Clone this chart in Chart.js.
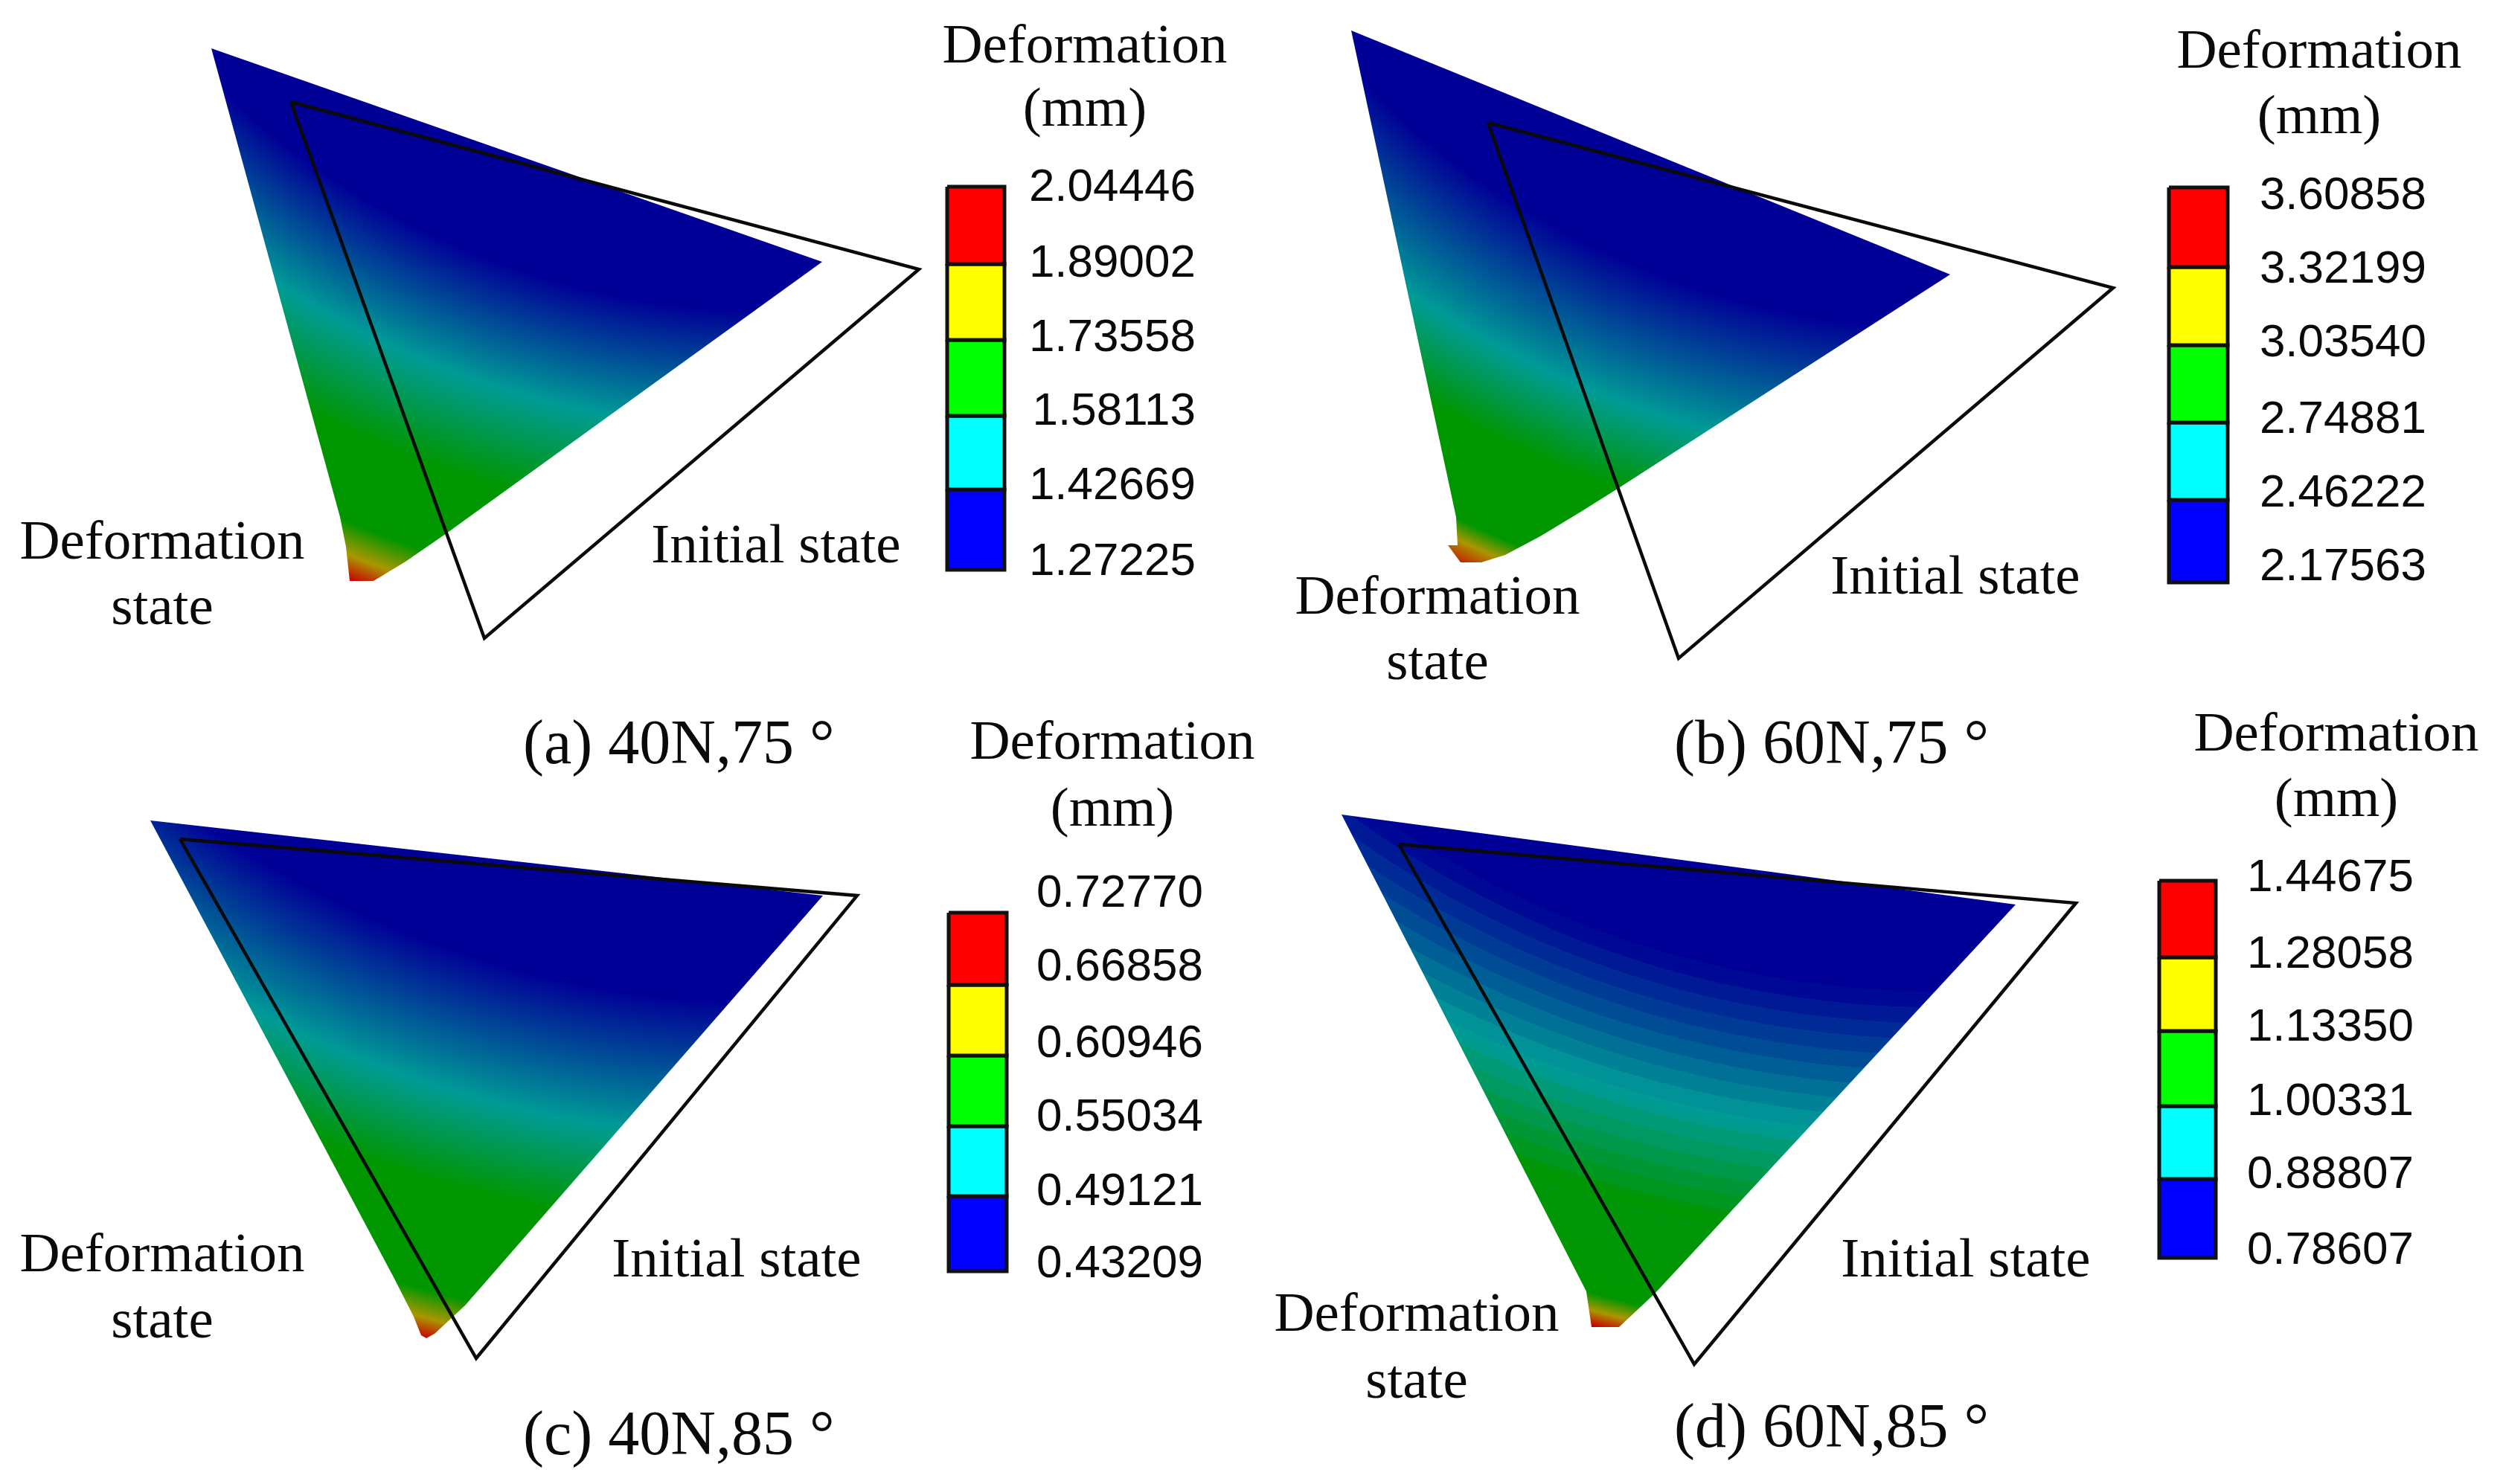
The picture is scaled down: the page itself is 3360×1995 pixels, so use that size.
<!DOCTYPE html>
<html>
<head>
<meta charset="utf-8">
<title>Deformation</title>
<script src="https://cdn.jsdelivr.net/npm/chart.js@4/dist/chart.umd.js"></script>
<style>
    html, body { margin: 0; padding: 0; background: #fff; }
    canvas { display: block; }
</style>
</head>
<body>
<canvas id="chart" width="3360" height="1995"></canvas>
<script>
// legend values per panel
const valuesA = ["2.04446", "1.89002", "1.73558", "1.58113", "1.42669", "1.27225"];
const valuesB = ["3.60858", "3.32199", "3.03540", "2.74881", "2.46222", "2.17563"];
const valuesC = ["0.72770", "0.66858", "0.60946", "0.55034", "0.49121", "0.43209"];
const valuesD = ["1.44675", "1.28058", "1.13350", "1.00331", "0.88807", "0.78607"];

// outlines
const initialAX = [391, 1235, 651, 391];
const initialAY = [137, 362, 858, 137];
const deformedAX = [284, 1105, 600, 545, 502, 470, 465, 457];
const deformedAY = [65, 352, 717, 755, 781, 781, 735, 695];

const initialBX = [2000, 2840, 2256, 2000];
const initialBY = [165, 387, 885, 165];
const deformedBX = [1816, 2621, 2174, 2123, 2070, 2023, 1991, 1963, 1946, 1959, 1957];
const deformedBY = [41, 369, 657, 689, 721, 746, 756, 756, 733, 733, 695];

const initialCX = [242, 1152, 640, 242];
const initialCY = [1128, 1204, 1826, 1128];
const deformedCX = [202, 1106, 625, 584, 573, 566, 556, 529];
const deformedCY = [1103, 1204, 1755, 1793, 1799, 1795, 1770, 1717];

const initialDX = [1880, 2790, 2277, 1880];
const initialDY = [1135, 1214, 1834, 1135];
const deformedDX = [1803, 2709, 2224, 2176, 2139, 2132];
const deformedDY = [1095, 1216, 1739, 1784, 1784, 1736];

const barEdgesA = [251, 355, 457, 559, 658, 766];
const barEdgesB = [252, 359, 464, 568, 672, 783];
const barEdgesC = [1227, 1324, 1419, 1514, 1608, 1709];
const barEdgesD = [1184, 1287, 1386, 1487, 1585, 1691];

const bandColors = ["#ff0000", "#ffff00", "#00ff00", "#00ffff", "#0000ff"];

const SERIF = '"Liberation Serif", serif';
const SANS = '"Liberation Sans", sans-serif';

const panels = [
    {
        initialX: initialAX, initialY: initialAY, deformedX: deformedAX, deformedY: deformedAY,
        edges: barEdgesA, barX: [1273, 1350], values: valuesA,
        valueRight: 1607, valueY: [250, 352, 452, 551, 651, 753],
        title: [1458, 84, 169],
        defo: [218, 751, 839], init: [1043, 756],
        caption: ["(a) 40N,75 °", 703, 1026],
        center: [1040, -654], radii: [1072, 1232, 1360, 1470, 1512, 1544], steps: 0
    },
    {
        initialX: initialBX, initialY: initialBY, deformedX: deformedBX, deformedY: deformedBY,
        edges: barEdgesB, barX: [2915, 2994], values: valuesB,
        valueRight: 3261, valueY: [261, 360, 459, 562, 661, 760],
        title: [3117, 91, 179],
        defo: [1932, 825, 913], init: [2628, 798],
        caption: ["(b) 60N,75 °", 2250, 1026],
        center: [2629, -678], radii: [1120, 1300, 1410, 1529, 1555, 1590], steps: 0
    },
    {
        initialX: initialCX, initialY: initialCY, deformedX: deformedCX, deformedY: deformedCY,
        edges: barEdgesC, barX: [1275, 1353], values: valuesC,
        valueRight: 1617, valueY: [1199, 1298, 1401, 1500, 1600, 1697],
        title: [1495, 1020, 1110],
        defo: [218, 1709, 1798], init: [990, 1716],
        caption: ["(c) 40N,85 °", 703, 1955],
        center: [1040, 18], radii: [1330, 1512, 1636, 1778, 1815, 1842], steps: 0
    },
    {
        initialX: initialDX, initialY: initialDY, deformedX: deformedDX, deformedY: deformedDY,
        edges: barEdgesD, barX: [2902, 2978], values: valuesD,
        valueRight: 3244, valueY: [1178, 1281, 1379, 1479, 1577, 1679],
        title: [3140, 1009, 1097],
        defo: [1904, 1789, 1879], init: [2642, 1716],
        caption: ["(d) 60N,85 °", 2250, 1945],
        center: [2607, 13], radii: [1320, 1512, 1660, 1787, 1810, 1830], steps: 16
    }
];

// dark blue, teal, green, green, olive, red
const fieldColors = [[0, 0, 150], [0, 155, 150], [0, 150, 0], [0, 150, 0], [170, 150, 0], [200, 0, 0]];

const toPoints = (xs, ys) => xs.map((x, i) => ({ x: x, y: ys[i] }));

function fieldColorAt(r, radii) {
    if (r <= radii[0]) return fieldColors[0];
    for (let i = 1; i < radii.length; i++) {
        if (r <= radii[i]) {
            const t = (r - radii[i - 1]) / (radii[i] - radii[i - 1]);
            return fieldColors[i].map((c, k) => Math.round(fieldColors[i - 1][k] + (c - fieldColors[i - 1][k]) * t));
        }
    }
    return fieldColors[fieldColors.length - 1];
}

// contour colouring, the field grows with distance from a point above the plate
function fieldGradient(chart, p) {
    const { x: sx, y: sy } = chart.scales;
    if (!sx || !sy) return "#000096";
    const cx = sx.getPixelForValue(p.center[0]);
    const cy = sy.getPixelForValue(p.center[1]);
    if (!isFinite(cx) || !isFinite(cy)) return "#000096";
    const rMax = p.radii[p.radii.length - 1];
    const g = chart.ctx.createRadialGradient(cx, cy, 0, cx, cy, rMax);
    const rgb = c => "rgb(" + c.join(",") + ")";
    p.radii.forEach((r, i) => g.addColorStop(r / rMax, rgb(fieldColors[i])));
    if (p.steps) {
        // panel d shows visible contour bands in the blue-green part
        const lo = p.radii[0], hi = p.radii[2], n = p.steps;
        for (let i = 0; i < n; i++) {
            const a = lo + (hi - lo) * i / n, b = lo + (hi - lo) * (i + 1) / n;
            const c = rgb(fieldColorAt((a + b) / 2, p.radii));
            g.addColorStop(a / rMax, c);
            g.addColorStop(b / rMax, c);
        }
    }
    return g;
}

const datasets = [];
panels.forEach(p => {
    // first dataset ends up on top
    datasets.push({
        data: toPoints(p.initialX, p.initialY),
        showLine: true, fill: false, pointRadius: 0, tension: 0,
        borderColor: "#0a0a0a", borderWidth: 4.5, borderJoinStyle: "miter"
    });
    for (let i = 0; i < bandColors.length; i++) {
        const [x0, x1] = p.barX, y0 = p.edges[i], y1 = p.edges[i + 1];
        datasets.push({
            data: toPoints([x0, x1, x1, x0, x0], [y0, y0, y1, y1, y0]),
            showLine: true, fill: "shape", pointRadius: 0, tension: 0,
            backgroundColor: bandColors[i], borderColor: "#111", borderWidth: 5
        });
    }
});
panels.forEach(p => {
    datasets.push({
        data: toPoints(p.deformedX.concat(p.deformedX[0]), p.deformedY.concat(p.deformedY[0])),
        showLine: true, fill: "shape", pointRadius: 0, tension: 0, borderWidth: 0,
        backgroundColor: ctx => fieldGradient(ctx.chart, p)
    });
});

const textPlugin = {
    id: "panelText",
    afterDraw(chart) {
        const { ctx, scales: { x, y } } = chart;
        const put = (text, px, py, font, align) => {
            ctx.font = font;
            ctx.textAlign = align;
            ctx.textBaseline = "alphabetic";
            ctx.fillStyle = "#0a0a0a";
            ctx.fillText(text, x.getPixelForValue(px), y.getPixelForValue(py));
        };
        ctx.save();
        panels.forEach(p => {
            const big = "75px " + SERIF;
            put("Deformation", p.title[0], p.title[1], big, "center");
            put("(mm)", p.title[0], p.title[2], big, "center");
            put("Deformation", p.defo[0], p.defo[1], big, "center");
            put("state", p.defo[0], p.defo[2], big, "center");
            put("Initial state", p.init[0], p.init[1], big, "center");
            put(p.caption[0], p.caption[1], p.caption[2], "84px " + SERIF, "left");
            p.values.forEach((v, i) => put(v, p.valueRight, p.valueY[i] + 20, "62px " + SANS, "right"));
        });
        ctx.restore();
    }
};

new Chart(document.getElementById("chart"), {
    type: "scatter",
    data: { datasets: datasets },
    options: {
        responsive: false,
        animation: false,
        devicePixelRatio: 1,
        layout: { padding: 0 },
        plugins: { legend: { display: false }, tooltip: { enabled: false }, title: { display: false } },
        scales: {
            x: { type: "linear", min: 0, max: 3360, display: false },
            y: { type: "linear", min: 0, max: 1995, reverse: true, display: false }
        }
    },
    plugins: [textPlugin]
});
</script>
</body>
</html>
